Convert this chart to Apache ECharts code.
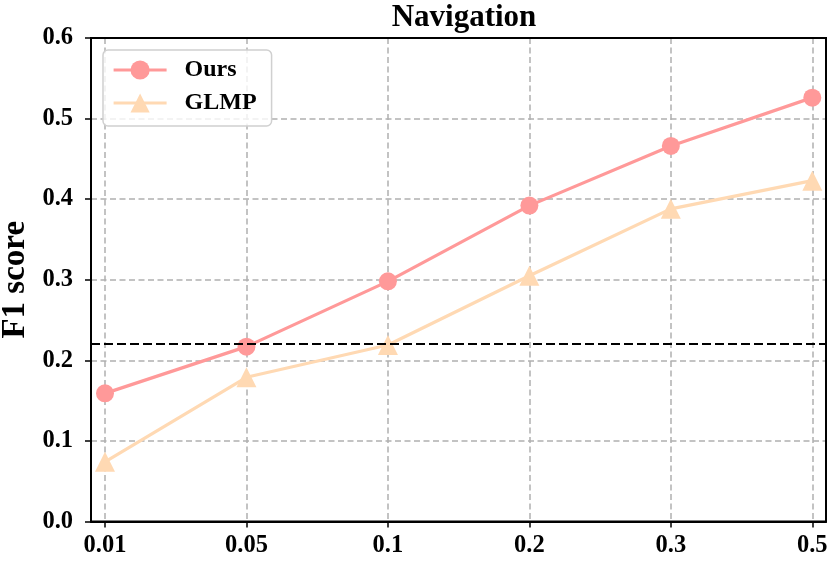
<!DOCTYPE html>
<html><head><meta charset="utf-8">
<script src="https://cdn.jsdelivr.net/npm/echarts@6/dist/echarts.min.js"></script>
<style>html,body{margin:0;padding:0;background:#fff}#c{width:830px;height:561px}</style>
</head><body><div id="c"></div>
<script>
var categories = ['0.01', '0.05', '0.1', '0.2', '0.3', '0.5'];
var oursValues = [0.159, 0.217, 0.298, 0.392, 0.466, 0.526];
var glmpValues = [0.074, 0.179, 0.219, 0.305, 0.388, 0.423];
var baselineValue = 0.217;
var yTicks = { min: 0, max: 0.6, interval: 0.1 };

var FONT = '"Liberation Serif", "DejaVu Serif", serif';
var chart = echarts.init(document.getElementById('c'));
var gridLine = { show: true, lineStyle: { color: '#b0b0b0', width: 1.5, type: [6, 3.5] } };
var frameLine = { show: true, onZero: false, lineStyle: { color: '#000', width: 2 } };
function frameAxis(extra) {
  return Object.assign({ gridIndex: 0, type: 'value', z: 10, axisLine: frameLine,
    axisTick: { show: false }, axisLabel: { show: false }, splitLine: { show: false } }, extra);
}
chart.setOption({
  animation: false,
  backgroundColor: '#fff',
  title: { text: 'Navigation', left: 459, textAlign: 'center', top: -3,
    textStyle: { fontFamily: FONT, fontWeight: 'bold', fontSize: 31, color: '#000' } },
  legend: {
    data: ['Ours', 'GLMP'], orient: 'vertical', left: 103, top: 50,
    padding: [8, 15, 11, 9], itemWidth: 53, itemHeight: 24, itemGap: 9,
    borderColor: '#d0d0d0', borderWidth: 1.5, borderRadius: 5, backgroundColor: 'rgba(255,255,255,0.8)',
    lineStyle: { width: 3.2 },
    textStyle: { fontFamily: FONT, fontWeight: 'bold', fontSize: 24, color: '#000', padding: [0, 0, 0, 13] }
  },
  grid: [
    { left: 91, right: 4, top: 38, bottom: 39.5, containLabel: false, outerBoundsMode: 'none',
      show: true, borderColor: '#000', borderWidth: 2, backgroundColor: 'transparent' },
    { left: 105, right: 17.7, top: 38, bottom: 39.5, containLabel: false, outerBoundsMode: 'none' }
  ],
  xAxis: [
    frameAxis({ min: 0, max: 1, position: 'bottom' }),
    { type: 'category', gridIndex: 1, data: categories, boundaryGap: false,
      axisLine: { show: false },
      axisTick: { show: true, alignWithLabel: true, length: 6, lineStyle: { color: '#000', width: 1.5 } },
      axisLabel: { fontFamily: FONT, fontWeight: 'bold', fontSize: 24.5, color: '#000', margin: 12 },
      splitLine: gridLine },
    frameAxis({ min: 0, max: 1, position: 'top' })
  ],
  yAxis: [
    { type: 'value', gridIndex: 0, min: yTicks.min, max: yTicks.max, interval: yTicks.interval,
      name: 'F1 score', nameLocation: 'middle', nameGap: 57, nameRotate: 90,
      nameTextStyle: { fontFamily: FONT, fontWeight: 'bold', fontSize: 33, color: '#000' },
      axisLine: frameLine,
      axisTick: { show: true, length: 6, lineStyle: { color: '#000', width: 1.5 } },
      axisLabel: { fontFamily: FONT, fontWeight: 'bold', fontSize: 24.5, color: '#000', margin: 18,
        formatter: function (v) { return v.toFixed(1); } },
      splitLine: gridLine },
    { type: 'value', gridIndex: 1, min: yTicks.min, max: yTicks.max, interval: yTicks.interval, show: false,
      splitLine: { show: false } },
    frameAxis({ min: yTicks.min, max: yTicks.max, position: 'right' })
  ],
  series: [
    { name: 'baseline', type: 'line', xAxisIndex: 0, yAxisIndex: 0, data: [],
      markLine: { silent: true, symbol: 'none', label: { show: false },
        lineStyle: { color: '#000', width: 1.8, type: [9, 4] },
        data: [{ yAxis: baselineValue }] } },
    { name: 'Ours', type: 'line', xAxisIndex: 1, yAxisIndex: 1, data: oursValues,
      symbol: 'circle', symbolSize: 18, color: '#ff9999',
      lineStyle: { width: 3.2, color: '#ff9999' }, itemStyle: { color: '#ff9999' }, z: 3 },
    { name: 'GLMP', type: 'line', xAxisIndex: 1, yAxisIndex: 1, data: glmpValues,
      symbol: 'triangle', symbolSize: 20, color: '#ffd9b3',
      lineStyle: { width: 3.2, color: '#ffd9b3' }, itemStyle: { color: '#ffd9b3' }, z: 2 }
  ]
});
</script></body></html>
